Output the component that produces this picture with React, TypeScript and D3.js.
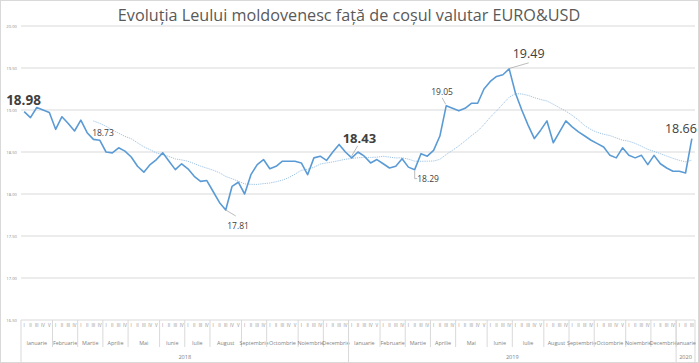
import React from "react";
import * as d3 from "d3";

const title = "Evoluția Leului moldovenesc față de coșul valutar EURO&USD";

const rates: number[] = [
  18.98, 18.91, 19.03, 19.0, 18.97, 18.77, 18.92, 18.84, 18.75, 18.88,
  18.73, 18.65, 18.64, 18.5, 18.49, 18.55, 18.51, 18.44, 18.33, 18.26,
  18.35, 18.41, 18.49, 18.39, 18.29, 18.36, 18.3, 18.21, 18.15, 18.16,
  18.03, 17.9, 17.81, 18.09, 18.14, 18.0, 18.23, 18.35, 18.41, 18.3,
  18.33, 18.39, 18.39, 18.39, 18.37, 18.23, 18.43, 18.45, 18.4, 18.5,
  18.59, 18.5, 18.43, 18.5, 18.45, 18.37, 18.41, 18.36, 18.31, 18.33,
  18.42, 18.32, 18.29, 18.48, 18.45, 18.52, 18.69, 19.05, 19.02, 18.99,
  19.02, 19.08, 19.08, 19.25, 19.34, 19.4, 19.42, 19.49, 19.2, 19.0,
  18.82, 18.66, 18.76, 18.87, 18.61, 18.74, 18.87, 18.8, 18.74, 18.69,
  18.64, 18.6, 18.56, 18.46, 18.43, 18.55, 18.46, 18.43, 18.46, 18.35,
  18.46, 18.36, 18.31, 18.27, 18.27, 18.25, 18.66,
];

const years = ["2018", "2019", "2020"];
const monthNames = [
  "Ianuarie", "Februarie", "Martie", "Aprilie", "Mai", "Iunie",
  "Iulie", "August", "Septembrie", "Octombrie", "Noiembrie", "Decembrie",
];
const weeks2018 = [5, 4, 4, 4, 5, 4, 4, 5, 4, 5, 4, 4];
const weeks2019 = [5, 4, 4, 4, 5, 4, 5, 4, 4, 5, 4, 4];
const weeks2020 = [3];
const weekNumerals = ["I", "II", "III", "IV", "V"];

const yTickValues = [16.5, 17.0, 17.5, 18.0, 18.5, 19.0, 19.5, 20.0];
const movingAvgPeriod = 12;

const labelIdx = [0, 10, 32, 52, 62, 67, 77, 106];
const labelText = ["18.98", "18.73", "17.81", "18.43", "18.29", "19.05", "19.49", "18.66"];

const W = 699;
const H = 363;
const FONT = "'Open Sans', 'Noto Sans', sans-serif";

export default function App() {
  const x = d3
    .scaleBand<number>()
    .domain(d3.range(rates.length))
    .range([21, 695]);
  const bw = x.bandwidth();
  const cx = (i: number) => (x(i) as number) + bw / 2;
  const y = d3.scaleLinear().domain([16.5, 20]).range([320, 26]);

  const line = d3
    .line<number>()
    .x((_, i) => cx(i))
    .y((d) => y(d));

  const ma: [number, number][] = [];
  for (let i = movingAvgPeriod - 1; i < rates.length; i++) {
    const m = d3.mean(rates.slice(i - movingAvgPeriod + 1, i + 1)) as number;
    ma.push([cx(i), y(m)]);
  }
  const maLine = d3.line()(ma) || "";

  const yearWeeks = [weeks2018, weeks2019, weeks2020];
  const months: { name: string; start: number; count: number }[] = [];
  const yearSpans: { name: string; start: number; count: number }[] = [];
  let idx = 0;
  yearWeeks.forEach((arr, yi) => {
    const ys = idx;
    arr.forEach((c, mi) => {
      months.push({ name: monthNames[mi], start: idx, count: c });
      idx += c;
    });
    yearSpans.push({ name: years[yi], start: ys, count: idx - ys });
  });
  const weekLabels: { i: number; t: string }[] = [];
  months.forEach((m) => {
    for (let k = 0; k < m.count; k++) weekLabels.push({ i: m.start + k, t: weekNumerals[k] });
  });

  const left = x(0) as number;
  const right = (x(rates.length - 1) as number) + bw;
  const axisTop = y(16.5);
  const grid = "#d9d9d9";

  const layout: Record<number, { dx: number; dy: number; size: number; bold?: boolean; anchor?: string; leader?: [number, number][] }> = {
    0: { dx: -18, dy: -7, size: 13.5, bold: true },
    10: { dx: 5, dy: 3.5, size: 8.5 },
    32: { dx: 1.5, dy: 19, size: 8.5, leader: [[0, 0], [10, 6]] },
    52: { dx: -9, dy: -15, size: 13, bold: true, leader: [[6, -12], [0, -2]] },
    62: { dx: 2.5, dy: 12.5, size: 8.5, leader: [[0, 1], [0, 9], [2.5, 9]] },
    67: { dx: -15, dy: -11, size: 8.5, leader: [[-4, -8], [-0.5, -1.5]] },
    77: { dx: 3.5, dy: -10.5, size: 12.5, leader: [[0.5, -0.5], [19.5, -6]] },
    106: { dx: 5, dy: -5.5, size: 12.5, anchor: "end" },
  };

  return (
    <div style={{ position: "fixed", left: 0, top: 0, width: W, height: H, background: "#fff" }}>
      <svg width={W} height={H} viewBox={`0 0 ${W} ${H}`} style={{ display: "block", fontFamily: FONT }}>
        <rect x={0.5} y={0.5} width={W - 1} height={H - 1} fill="#fff" stroke={grid} />
        <text x={349} y={21} textAnchor="middle" fontSize={16.2} fill="#595959">
          {title}
        </text>

        {yTickValues.map((v) => (
          <g key={v}>
            <line x1={left} x2={right} y1={y(v)} y2={y(v)} stroke={grid} strokeWidth={1} />
            <text x={17} y={y(v) + 1.5} textAnchor="end" fontSize={4.2} fill="#8c8c8c">
              {d3.format(".2f")(v)}
            </text>
          </g>
        ))}

        <line x1={left} x2={left} y1={axisTop} y2={362} stroke={grid} />
        <line x1={right} x2={right} y1={axisTop} y2={362} stroke={grid} />
        {months.map((m, k) => (
          <g key={"m" + k}>
            {k > 0 && (
              <line
                x1={x(m.start) as number}
                x2={x(m.start) as number}
                y1={axisTop}
                y2={347}
                stroke={grid}
              />
            )}
            <text
              x={(x(m.start) as number) + (m.count * bw) / 2}
              y={345}
              textAnchor="middle"
              fontSize={5.4}
              fill="#7f7f7f"
            >
              {m.name}
            </text>
          </g>
        ))}
        {yearSpans.map((s, k) => (
          <g key={"y" + k}>
            {k > 0 && (
              <line x1={x(s.start) as number} x2={x(s.start) as number} y1={axisTop} y2={362} stroke={grid} />
            )}
            <text
              x={(x(s.start) as number) + (s.count * bw) / 2}
              y={359}
              textAnchor="middle"
              fontSize={5.6}
              fill="#7f7f7f"
            >
              {s.name}
            </text>
          </g>
        ))}
        {weekLabels.map((w) => (
          <text key={"w" + w.i} x={cx(w.i)} y={327} textAnchor="middle" fontSize={4.4} fill="#8c8c8c">
            {w.t}
          </text>
        ))}

        <path d={maLine} fill="none" stroke="#9dc3e6" strokeWidth={1} strokeDasharray="1.2 1" />

        <path d={line(rates) || ""} fill="none" stroke="#5b9bd5" strokeWidth={1.6} strokeLinejoin="round" />

        {labelIdx.map((i, k) => {
          const px = cx(i);
          const py = y(rates[i]);
          const L = layout[i];
          return (
            <g key={"l" + i}>
              {L.leader && (
                <polyline
                  points={L.leader.map(([a, b]) => `${px + a},${py + b}`).join(" ")}
                  fill="none"
                  stroke="#a6a6a6"
                  strokeWidth={0.75}
                />
              )}
              <text
                x={px + L.dx}
                y={py + L.dy}
                textAnchor={(L.anchor as any) || "start"}
                fontSize={L.size}
                fontWeight={L.bold ? 700 : 400}
                fill="#404040"
              >
                {labelText[k]}
              </text>
            </g>
          );
        })}
      </svg>
    </div>
  );
}
